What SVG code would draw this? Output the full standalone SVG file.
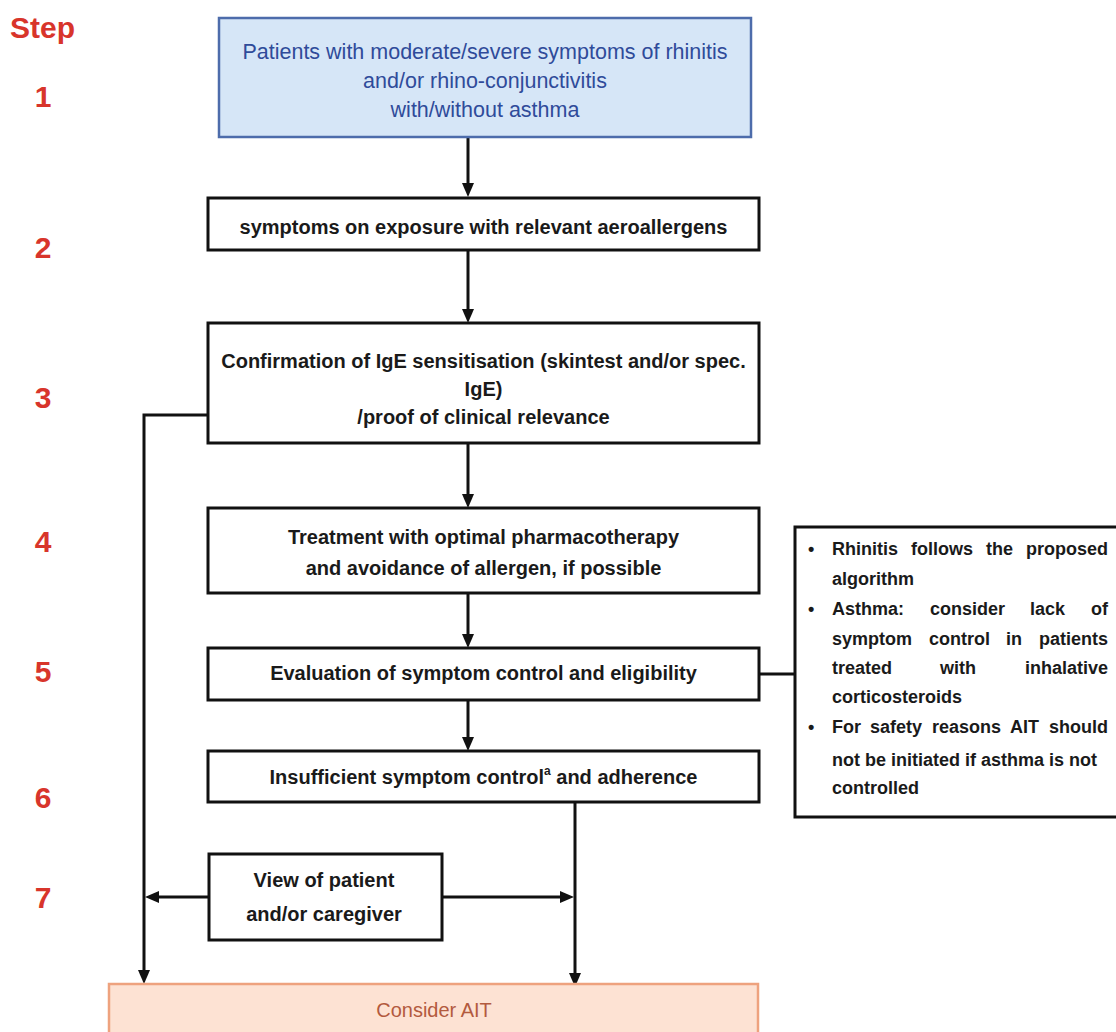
<svg xmlns="http://www.w3.org/2000/svg" width="1116" height="1032" viewBox="0 0 1116 1032">
<defs>
<style>
.step{font-family:"Liberation Sans",Arial,sans-serif;font-weight:bold;fill:#d8352b;}
.box{fill:#ffffff;stroke:#111111;stroke-width:3;}
.t{font-family:"Liberation Sans",Arial,sans-serif;font-weight:bold;font-size:20px;fill:#1a1a1a;text-anchor:middle;}
.s{font-family:"Liberation Sans",Arial,sans-serif;font-weight:bold;font-size:18px;fill:#1a1a1a;}
.con{fill:none;stroke:#111111;stroke-width:3;}
</style>
<marker id="ah" viewBox="0 0 14 12" refX="1" refY="6" markerWidth="14" markerHeight="12" markerUnits="userSpaceOnUse" orient="auto">
<path d="M0,0 L14,6 L0,12 z" fill="#111111"/>
</marker>
</defs>
<rect x="0" y="0" width="1116" height="1032" fill="#ffffff"/>

<g id="steps">
<text class="step" x="10" y="38" font-size="30">Step</text>
<text class="step" x="43" y="107" font-size="30" text-anchor="middle">1</text>
<text class="step" x="43" y="258" font-size="30" text-anchor="middle">2</text>
<text class="step" x="43" y="408" font-size="30" text-anchor="middle">3</text>
<text class="step" x="43" y="552" font-size="30" text-anchor="middle">4</text>
<text class="step" x="43" y="682" font-size="30" text-anchor="middle">5</text>
<text class="step" x="43" y="808" font-size="30" text-anchor="middle">6</text>
<text class="step" x="43" y="908" font-size="30" text-anchor="middle">7</text>
</g>

<g id="connectors">
<path class="con" d="M468,137 L468,184" marker-end="url(#ah)"/>
<path class="con" d="M468,250 L468,310" marker-end="url(#ah)"/>
<path class="con" d="M468,443 L468,495" marker-end="url(#ah)"/>
<path class="con" d="M468,593 L468,635" marker-end="url(#ah)"/>
<path class="con" d="M468,700 L468,738" marker-end="url(#ah)"/>
<path class="con" d="M208,415 L144,415 L144,971" marker-end="url(#ah)"/>
<path class="con" d="M575,802 L575,974" marker-end="url(#ah)"/>
<path class="con" d="M209,897 L158,897" marker-end="url(#ah)"/>
<path class="con" d="M442,897 L561,897" stroke-width="4.5" marker-end="url(#ah)"/>
<path class="con" d="M759,674 L795,674"/>
</g>

<g id="node1">
<rect x="219" y="18" width="532" height="119" fill="#d6e6f7" stroke="#4d6cab" stroke-width="2.5"/>
<text x="485" y="59" font-family="'Liberation Sans',Arial,sans-serif" font-size="21.5" fill="#2f4b9a" text-anchor="middle">Patients with moderate/severe symptoms of rhinitis</text>
<text x="485" y="88" font-family="'Liberation Sans',Arial,sans-serif" font-size="21.5" fill="#2f4b9a" text-anchor="middle">and/or rhino-conjunctivitis</text>
<text x="485" y="117" font-family="'Liberation Sans',Arial,sans-serif" font-size="21.5" fill="#2f4b9a" text-anchor="middle">with/without asthma</text>
</g>

<g id="node2">
<rect class="box" x="208" y="198" width="551" height="52"/>
<text class="t" x="483.5" y="234">symptoms on exposure with relevant aeroallergens</text>
</g>

<g id="node3">
<rect class="box" x="208" y="323" width="551" height="120"/>
<text class="t" x="483.5" y="368">Confirmation of IgE sensitisation (skintest and/or spec.</text>
<text class="t" x="483.5" y="396">IgE)</text>
<text class="t" x="483.5" y="424">/proof of clinical relevance</text>
</g>

<g id="node4">
<rect class="box" x="208" y="508" width="551" height="85"/>
<text class="t" x="483.5" y="544">Treatment with optimal pharmacotherapy</text>
<text class="t" x="483.5" y="575">and avoidance of allergen, if possible</text>
</g>

<g id="node5">
<rect class="box" x="208" y="648" width="551" height="52"/>
<text class="t" x="483.5" y="680">Evaluation of symptom control and eligibility</text>
</g>

<g id="node6">
<rect class="box" x="208" y="751" width="551" height="51"/>
<text class="t" x="483.5" y="784">Insufficient symptom control<tspan font-size="12" dy="-9">a</tspan><tspan dy="9"> and adherence</tspan></text>
</g>

<g id="node7">
<rect class="box" x="209" y="854" width="233" height="86"/>
<text class="t" x="324" y="887">View of patient</text>
<text class="t" x="324" y="921">and/or caregiver</text>
</g>

<g id="node8">
<rect x="109" y="984" width="649" height="60" fill="#fde2d3" stroke="#eea27e" stroke-width="2.5"/>
<text x="434" y="1017" font-family="'Liberation Sans',Arial,sans-serif" font-size="20" fill="#b35a3e" text-anchor="middle">Consider AIT</text>
</g>

<g id="note">
<rect class="box" x="795" y="527" width="330" height="290"/>
<text class="s" x="808" y="555">•</text>
<text class="s" y="555"><tspan x="832">Rhinitis</tspan><tspan x="911">follows</tspan><tspan x="986">the</tspan><tspan x="1026">proposed</tspan></text>
<text class="s" x="832" y="585">algorithm</text>
<text class="s" x="808" y="615">•</text>
<text class="s" y="615"><tspan x="832">Asthma:</tspan><tspan x="930">consider</tspan><tspan x="1030">lack</tspan><tspan x="1091">of</tspan></text>
<text class="s" y="645"><tspan x="832">symptom</tspan><tspan x="929">control</tspan><tspan x="1006">in</tspan><tspan x="1039">patients</tspan></text>
<text class="s" y="674"><tspan x="832">treated</tspan><tspan x="940">with</tspan><tspan x="1025">inhalative</tspan></text>
<text class="s" x="832" y="703">corticosteroids</text>
<text class="s" x="808" y="733">•</text>
<text class="s" y="733"><tspan x="832">For</tspan><tspan x="870">safety</tspan><tspan x="932">reasons</tspan><tspan x="1010">AIT</tspan><tspan x="1049">should</tspan></text>
<text class="s" x="832" y="766">not be initiated if asthma is not</text>
<text class="s" x="832" y="794">controlled</text>
</g>
</svg>
